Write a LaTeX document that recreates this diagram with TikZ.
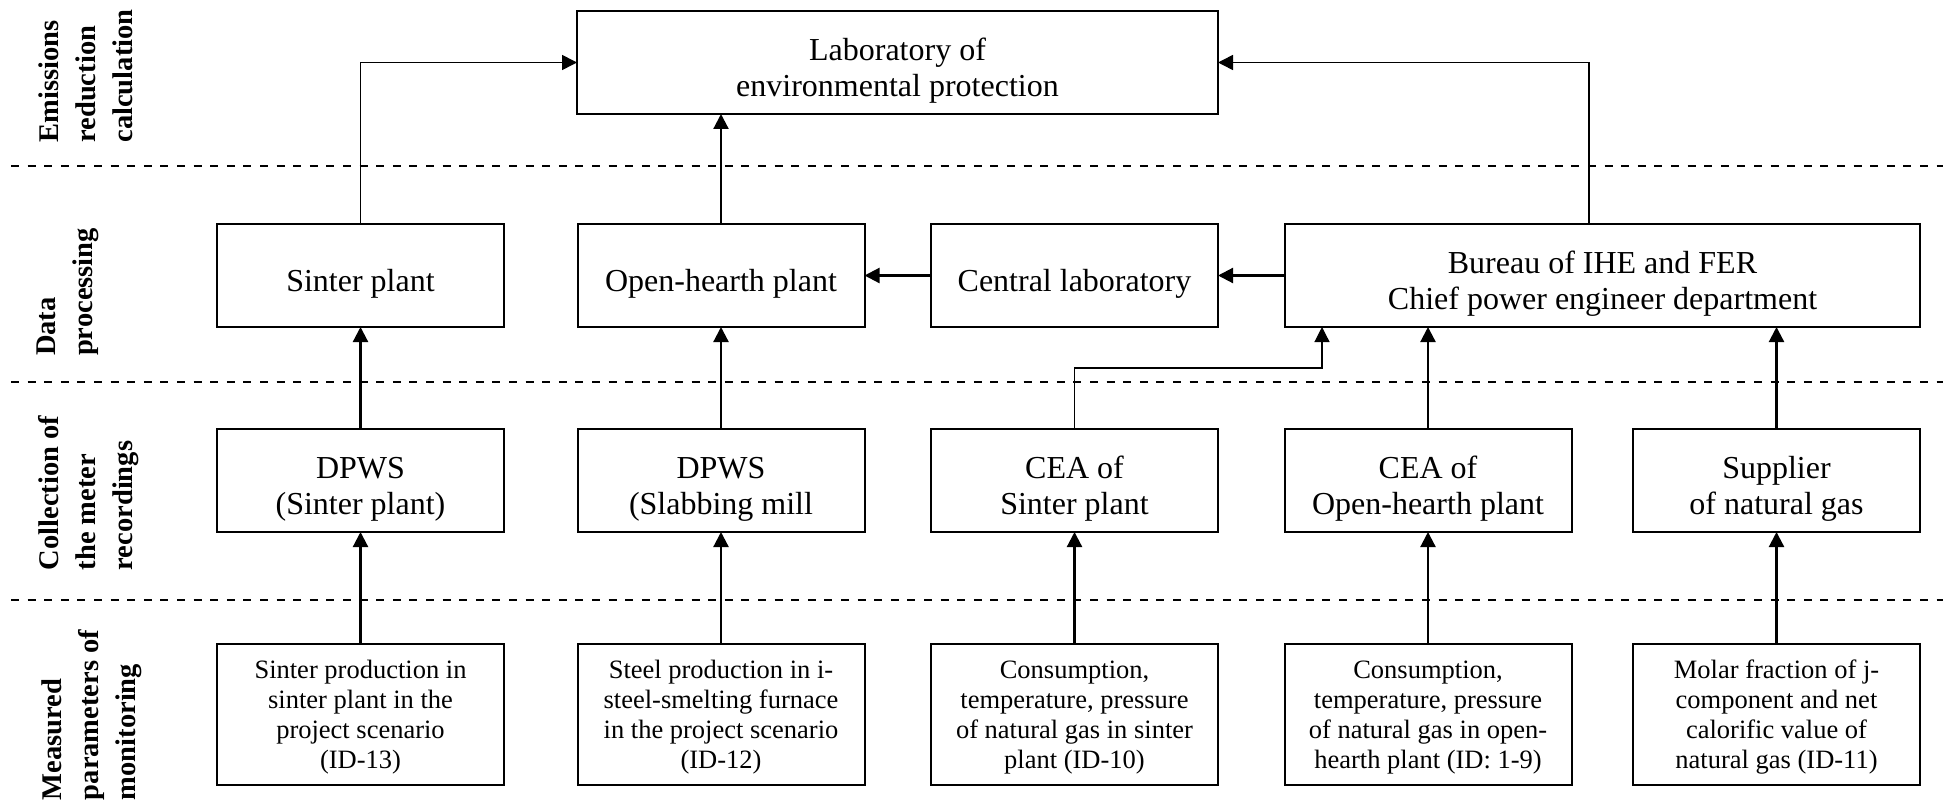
\documentclass[tikz,border=0pt]{standalone}
\usepackage{fontspec}
\setmainfont{Liberation Serif}
\usetikzlibrary{arrows.meta,calc}
\definecolor{ink}{HTML}{000000}
\tikzset{
  cell/.style={draw=ink,line width=1pt,inner sep=2pt,outer sep=0pt,align=center,minimum width=143.5pt},
  box/.style={cell,minimum height=51.5pt,font=\fontsize{16}{18.4}\selectfont,execute at begin node={\rule{0pt}{19.5pt}}},
  box2/.style={box,execute at begin node={\rule{0pt}{37.9pt}}},
  boxs/.style={cell,minimum height=70.5pt,font=\fontsize{13.25}{15}\selectfont,execute at begin node={\rule{0pt}{57pt}}},
  lane/.style={rotate=90,align=left,inner sep=0pt,font=\fontsize{14.25}{18.5}\selectfont\bfseries},
  ar/.style={-{Triangle[length=7.5pt,width=7.5pt]},draw=ink,line width=1.1pt},
  arl/.style={ar,line width=.8pt},
  arh/.style={ar,line width=.6pt},
  sep/.style={draw=ink,line width=.9pt,dash pattern=on 4pt off 4.3pt},
}
\begin{document}
\begin{tikzpicture}[x=.5pt,y=-.5pt]
\useasboundingbox (0,0) rectangle (1943,808);
% lanes
\draw[sep] (11,166) -- (1943,166);
\draw[sep] (11,382) -- (1943,382);
\draw[sep] (11,600) -- (1943,600);
\node[lane] (l1) at (86,76) {Emissions\\reduction\\calculation};
\node[lane] (l2) at (68,292) {Data\\processing};
\node[lane] (l3) at (89,493) {Collection of\\the meter\\recordings};
\node[lane] (l4) at (92,715) {Measured\\parameters of\\monitoring};
% emissions reduction calculation
\node[box2,minimum width=320.5pt] (lab) at (897.5,62.5) {Laboratory of\\environmental protection};
% data processing
\node[box] (sinter) at (360.5,275.5) {Sinter plant};
\node[box] (openh) at (721,275.5) {Open-hearth plant};
\node[box] (central) at (1074.5,275.5) {Central laboratory};
\node[box2,minimum width=317.5pt] (bureau) at (1602.5,275.5) {Bureau of IHE and FER\\Chief power engineer department};
% collection of the meter recordings
\node[box2] (dpwss) at (360.5,480.5) {DPWS\\(Sinter plant)};
\node[box2] (dpwsm) at (721,480.5) {DPWS\\(Slabbing mill};
\node[box2] (ceas) at (1074.5,480.5) {CEA of\\Sinter plant};
\node[box2] (ceao) at (1428,480.5) {CEA of\\Open-hearth plant};
\node[box2] (supp) at (1776.5,480.5) {Supplier\\of natural gas};
% measured parameters
\node[boxs] (m13) at (360.5,714.5) {Sinter production in\\sinter plant in the\\project scenario\\(ID-13)};
\node[boxs] (m12) at (721,714.5) {Steel production in i-\\steel-smelting furnace\\in the project scenario\\(ID-12)};
\node[boxs] (m10) at (1074.5,714.5) {Consumption,\\temperature, pressure\\of natural gas in sinter\\plant (ID-10)};
\node[boxs] (m19) at (1428,714.5) {Consumption,\\temperature, pressure\\of natural gas in open-\\hearth plant (ID: 1-9)};
\node[boxs] (m11) at (1776.5,714.5) {Molar fraction of j-\\component and net\\calorific value of\\natural gas (ID-11)};
% connectors
\coordinate (kink) at (1322,368);
\coordinate (bup) at (1589,0);
\draw[arl] (sinter.north) |- (lab.west);
\draw[arl] (bup |- bureau.north) |- (lab.east);
\draw[ar] (openh.north) -- (openh.north |- lab.south);
\draw[ar] (central.west) -- (openh.east);
\draw[ar] (bureau.west) -- (central.east);
\draw[ar] (dpwss.north) -- (sinter.south);
\draw[ar] (dpwsm.north) -- (openh.south);
\draw[arh] (ceas.north) |- (kink) -- (kink |- bureau.south);
\draw[ar] (ceao.north) -- (ceao.north |- bureau.south);
\draw[ar] (supp.north) -- (supp.north |- bureau.south);
\draw[ar] (m13.north) -- (dpwss.south);
\draw[ar] (m12.north) -- (dpwsm.south);
\draw[ar] (m10.north) -- (ceas.south);
\draw[ar] (m19.north) -- (ceao.south);
\draw[ar] (m11.north) -- (supp.south);
\end{tikzpicture}
\end{document}
